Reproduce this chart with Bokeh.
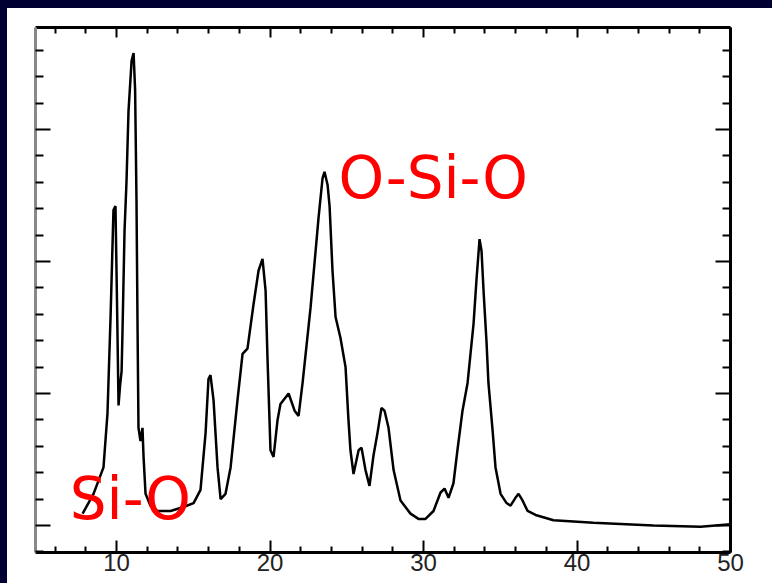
from jinja2 import Template
from bokeh.plotting import figure
from bokeh.models import FixedTicker, LinearAxis, Range1d, Label
from bokeh.embed import file_html
from bokeh.resources import INLINE

# Spectrum (x in the chart's units, y arbitrary intensity units)
wavenumber = [7.79, 8.50, 9.15, 9.41, 9.61, 9.80, 9.93, 10.03, 10.13, 10.23, 10.33, 10.39,
              10.52, 10.65, 10.78, 10.98, 11.11, 11.21, 11.30, 11.37, 11.43, 11.56, 11.69,
              11.76, 11.89, 12.21, 12.67, 13.52, 14.36, 15.02, 15.47, 15.80, 15.99, 16.12,
              16.32, 16.58, 16.78, 17.10, 17.43, 17.88, 18.21, 18.53, 18.93, 19.25, 19.51,
              19.71, 19.84, 20.03, 20.23, 20.49, 20.68, 21.21, 21.60, 21.86, 22.12, 22.64,
              23.16, 23.42, 23.55, 23.75, 23.88, 24.07, 24.27, 24.59, 24.92, 25.11, 25.24,
              25.44, 25.77, 25.96, 26.22, 26.48, 26.74, 27.00, 27.26, 27.46, 27.72, 28.05,
              28.50, 29.15, 29.67, 30.13, 30.65, 31.11, 31.37, 31.63, 31.95, 32.21, 32.54,
              32.87, 33.26, 33.45, 33.65, 33.78, 33.91, 34.10, 34.23, 34.50, 34.69, 35.02,
              35.41, 35.67, 35.99, 36.19, 36.45, 36.78, 37.30, 38.47, 41.07, 44.98, 48.05,
              50.0]
intensity = [0.09, 0.24, 0.44, 0.85, 1.58, 2.39, 2.42, 1.70, 0.91, 1.06, 1.17, 1.48,
             2.23, 2.61, 3.14, 3.52, 3.58, 3.30, 2.46, 1.48, 0.74, 0.64, 0.74,
             0.52, 0.24, 0.15, 0.11, 0.11, 0.14, 0.17, 0.27, 0.70, 1.11, 1.14,
             0.95, 0.44, 0.20, 0.24, 0.44, 0.95, 1.30, 1.34, 1.68, 1.93, 2.02,
             1.78, 1.25, 0.57, 0.52, 0.80, 0.92, 1.00, 0.87, 0.83, 1.08, 1.65,
             2.33, 2.63, 2.68, 2.58, 2.42, 1.93, 1.58, 1.42, 1.20, 0.80, 0.57,
             0.39, 0.57, 0.59, 0.42, 0.30, 0.53, 0.70, 0.89, 0.87, 0.74, 0.42,
             0.19, 0.09, 0.05, 0.05, 0.11, 0.25, 0.28, 0.21, 0.32, 0.57, 0.87,
             1.08, 1.53, 1.86, 2.17, 2.08, 1.78, 1.40, 1.08, 0.72, 0.44, 0.24,
             0.17, 0.15, 0.21, 0.24, 0.19, 0.11, 0.08, 0.04, 0.02, 0.00, -0.01,
             0.01]

x_ticks = [10, 20, 30, 40, 50]
x_minor = [6, 8, 12, 14, 16, 18, 22, 24, 26, 28, 32, 34, 36, 38, 42, 44, 46, 48]
y_ticks = [0, 1, 2, 3]
y_minor = [-0.2, 0.2, 0.4, 0.6, 0.8, 1.2, 1.4, 1.6, 1.8, 2.2, 2.4, 2.6, 2.8,
           3.2, 3.4, 3.6]

annotations = [("O-Si-O", 24.46, 2.63), ("Si-O", 6.95, 0.20)]

p = figure(width=772, height=583, x_range=Range1d(4.72, 50), y_range=Range1d(-0.2045, 3.773),
           output_backend="svg", toolbar_location=None, x_axis_type=None, y_axis_type=None,
           min_border_left=35, min_border_right=42, min_border_top=27, min_border_bottom=31,
           background_fill_color="white", border_fill_color="white")
p.outline_line_color = None


def make_axis(ticker, major_in, minor_in, color="black", labels=False):
    ax = LinearAxis(ticker=ticker)
    ax.major_tick_in = major_in
    ax.major_tick_out = 0
    ax.minor_tick_in = minor_in
    ax.minor_tick_out = 0
    ax.axis_line_color = color
    ax.axis_line_width = 3
    ax.major_tick_line_color = "black"
    ax.major_tick_line_width = 2
    ax.minor_tick_line_color = "black"
    ax.minor_tick_line_width = 2
    if labels:
        ax.major_label_text_font = "Liberation Sans"
        ax.major_label_text_font_size = "24px"
        ax.major_label_text_color = "#222222"
        ax.major_label_standoff = 1
    else:
        ax.major_label_text_color = None
        ax.major_label_text_font_size = "8px"
        ax.major_label_standoff = 0
    return ax


xt = FixedTicker(ticks=x_ticks, minor_ticks=x_minor)
yt = FixedTicker(ticks=y_ticks, minor_ticks=y_minor)
p.add_layout(make_axis(xt, 12, 6, labels=True), "below")
p.add_layout(make_axis(xt, 10, 6), "above")
p.add_layout(make_axis(yt, 15, 8, color="#888888"), "left")
p.add_layout(make_axis(yt, 15, 8), "right")

p.line(wavenumber, intensity, line_color="black", line_width=2.5)

for txt, ax_, ay_ in annotations:
    p.add_layout(Label(x=ax_, y=ay_, text=txt, text_color="#ff0000", text_font="DejaVu Sans",
                       text_font_size="58px", text_baseline="alphabetic"))

# navy slide background strips along the top and left edges of the page
page_template = Template("""{% extends base %}
{% block preamble %}<style>
html, body { background-color: #ffffff; }
body::before { content: ""; position: fixed; left: 0; top: 0; width: 7px; height: 100%;
               background: #000033; z-index: 1000; }
body::after { content: ""; position: fixed; left: 0; top: 0; width: 100%; height: 8px;
              background: #000033; z-index: 1000; }
</style>{% endblock %}
""")
open("out.html", "w").write(file_html(p, INLINE, template=page_template))
